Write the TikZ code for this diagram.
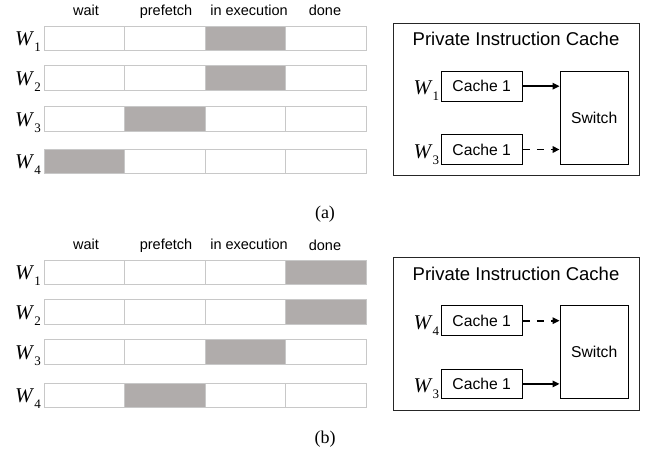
\documentclass[tikz,border=0pt]{standalone}
\usepackage{fontspec}
\setmainfont{Liberation Serif}
\setsansfont{Liberation Sans}
\usetikzlibrary{arrows.meta}
\definecolor{cellline}{HTML}{C8C8C8}
\definecolor{busy}{HTML}{B0ACAB}
\definecolor{boxline}{HTML}{262626}
\tikzset{
  cell/.style={draw=cellline, line width=0.9pt, minimum width=80.4pt, minimum height=24.5pt,
    inner sep=0pt, outer sep=0pt, anchor=north west, fill=white},
  busycell/.style={cell, fill=busy},
  head/.style={font=\sffamily\fontsize{14.5}{14.5}\selectfont, anchor=base, inner sep=0pt},
  wlab/.style={font=\fontsize{21}{21}\selectfont, anchor=base west, inner sep=0pt},
  frame/.style={draw=boxline, line width=1pt, inner sep=0pt},
  cachebox/.style={draw=black, line width=1pt, inner sep=0pt, minimum width=81.3pt,
    minimum height=29.7pt, font=\sffamily\fontsize{15.7}{15.7}\selectfont},
  switchbox/.style={draw=black, line width=1pt, inner sep=0pt, minimum width=68.3pt,
    minimum height=93pt, font=\sffamily\fontsize{15.7}{15.7}\selectfont},
  title/.style={font=\sffamily\fontsize{18.5}{18.5}\selectfont, anchor=base, inner sep=0pt},
  conn/.style={line width=1.5pt, -{Triangle[length=7pt,width=6.5pt]}},
  dconn/.style={conn, line width=1.7pt, dash pattern=on 7.5pt off 6.5pt},
  caption/.style={font=\fontsize{18}{18}\selectfont, anchor=base, inner sep=0pt},
}
\newcommand{\wl}[1]{\textit{W}\raisebox{-0.28em}{\fontsize{13}{13}\selectfont #1}}
\begin{document}
\begin{tikzpicture}[x=1pt, y=-1pt]
\useasboundingbox (0,0) rectangle (649,468);
\fill[white] (0,0) rectangle (649,468);

% ---------- (a) left table ----------
\node[head] (ha1) at (86,15.5) {wait};
\node[head] (ha2) at (166,15.5) {prefetch};
\node[head] (ha3) at (249,15.5) {in execution};
\node[head] (ha4) at (325,16) {done};
\foreach \r/\y/\b in {1/26/3, 2/65.7/3, 3/106.7/2, 4/149/1} {
  \node[wlab] (wa\r) at (15,\y+19.7) {\wl{\r}};
  \foreach \c in {1,...,4} {
    \ifnum\c=\b \def\sty{busycell}\else\def\sty{cell}\fi
    \node[\sty] (ca\r\c) at ({44.5+80.4*(\c-1)},\y) {};
  }
}
\node[caption] (capa) at (325,219) {(a)};

% ---------- (a) right box ----------
\node[frame, minimum width=245.7pt, minimum height=152.4pt] (fa) at (516.2,99.5) {};
\node[title] (ta) at (516,46) {Private Instruction Cache};
\node[cachebox] (ka1) at (481.7,86.2) {Cache 1};
\node[cachebox] (ka2) at (481.7,149.5) {Cache 1};
\node[switchbox] (sa) at (594.2,117.8) {Switch};
\node[wlab] (wka1) at (413.3,95) {\wl{1}};
\node[wlab] (wka2) at (413.3,158.3) {\wl{3}};
\draw[conn] (ka1.east) -- (ka1.east -| sa.west);
\draw[dconn] (ka2.east) -- (ka2.east -| sa.west);

% ---------- (b) left table ----------
\node[head] (hb1) at (86,250) {wait};
\node[head] (hb2) at (166,250) {prefetch};
\node[head] (hb3) at (249,250) {in execution};
\node[head] (hb4) at (325,250.5) {done};
\foreach \r/\y/\b in {1/260/4, 2/299.5/4, 3/339.5/3, 4/383/2} {
  \node[wlab] (wb\r) at (15,\y+19.7) {\wl{\r}};
  \foreach \c in {1,...,4} {
    \ifnum\c=\b \def\sty{busycell}\else\def\sty{cell}\fi
    \node[\sty] (cb\r\c) at ({44.5+80.4*(\c-1)},\y) {};
  }
}
\node[caption] (capb) at (325,443) {(b)};

% ---------- (b) right box ----------
\node[frame, minimum width=245.7pt, minimum height=153.4pt] (fb) at (516.2,334) {};
\node[title] (tb) at (516,281) {Private Instruction Cache};
\node[cachebox] (kb1) at (481.7,320.7) {Cache 1};
\node[cachebox] (kb2) at (481.7,383.9) {Cache 1};
\node[switchbox] (sb) at (594.2,352.2) {Switch};
\node[wlab] (wkb1) at (413.3,329.5) {\wl{4}};
\node[wlab] (wkb2) at (413.3,392.7) {\wl{3}};
\draw[dconn] (kb1.east) -- (kb1.east -| sb.west);
\draw[conn] (kb2.east) -- (kb2.east -| sb.west);
\end{tikzpicture}
\end{document}
